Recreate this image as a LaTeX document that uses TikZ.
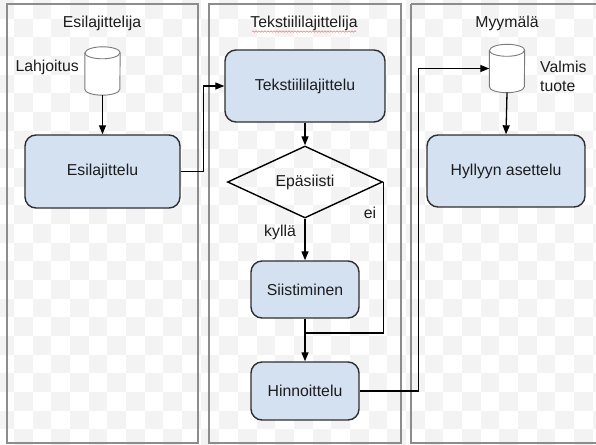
\documentclass[tikz,border=0pt]{standalone}
\usepackage{fontspec}
\setmainfont{Liberation Sans}
\usetikzlibrary{arrows.meta,shapes.geometric,decorations.pathmorphing}
\definecolor{boxfill}{HTML}{D4E1F1}
\definecolor{boxline}{HTML}{2E2E2E}
\definecolor{ink}{HTML}{1C1C1C}
\definecolor{lanegray}{HTML}{8C8C8C}
\definecolor{dbgray}{HTML}{7A7A7A}
\definecolor{checker}{HTML}{F3F3F3}
\begin{document}
\begin{tikzpicture}[x=1pt,y=-1pt,
  font=\fontsize{15.8}{19}\selectfont, text=ink,
  lane/.style={draw=lanegray, line width=1.2pt},
  task/.style={draw=boxline, fill=boxfill, line width=1.4pt, rounded corners=11pt,
    align=center, inner sep=0pt},
  decision/.style={diamond, draw=black, line width=1.4pt, inner sep=0pt, aspect=2.15},
  dbspot/.style={inner sep=0pt, minimum width=35pt, minimum height=48pt},
  dbline/.style={draw=dbgray, line width=0.9pt},
  flow/.style={draw=black, line width=1.3pt, -{Triangle[length=9pt,width=7pt]}},
  wire/.style={draw=black, line width=1.3pt},
  lbl/.style={inner sep=0pt}
]
\useasboundingbox (0,0) rectangle (596,444);

% light checkered canvas
\begin{scope}
  \clip (0,0) rectangle (596,444);
  \foreach \i in {-1,...,31}{
    \foreach \j in {0,...,23}{
      \pgfmathtruncatemacro\cpar{mod(\i+\j+100,2)}
      \ifnum\cpar=1
        \fill[checker] (14+\i*18.667,\j*18.667) rectangle ++(18.667,18.667);
      \fi
    }
  }
\end{scope}

% swimlanes
\draw[lane] (7,4) rectangle (198,443);
\draw[lane] (209,4) rectangle (401,443);
\draw[lane] (411,4) -- (600,4);
\draw[lane] (411,4) -- (411,443) -- (600,443);

\node[lbl] (t1) at (102,23) {Esilajittelija};
\node[lbl] (t2) at (304,23) {Tekstiililajittelija};
\node[lbl] (t3) at (507,23) {Myymälä};
\draw[red!55, line width=0.6pt, decorate,
  decoration={snake, amplitude=0.7pt, segment length=3pt}] (252,31.5) -- (356,31.5);

% data stores
\node[dbspot] (lah) at (102.5,71) {};
\node[dbspot] (val) at (507,68.5) {};
\foreach \d in {lah,val}{
  \draw[dbline, fill=white]
    ([yshift=-6pt]\d.north west) -- ([yshift=6pt]\d.south west)
    arc[start angle=180, end angle=360, x radius=17.5pt, y radius=6pt]
    -- ([yshift=-6pt]\d.north east)
    arc[start angle=0, end angle=180, x radius=17.5pt, y radius=6pt] -- cycle;
  \draw[dbline] ([yshift=-6pt]\d.north west)
    arc[start angle=180, end angle=360, x radius=17.5pt, y radius=6pt];
}
\node[lbl, anchor=east] (lahl) at (79,67) {Lahjoitus};
\node[lbl, anchor=west, align=left] (vall) at (540,76) {Valmis\\tuote};

% process steps
\node[task, minimum width=155pt, minimum height=73pt] (esi) at (102.5,171.5) {Esilajittelu};
\node[task, minimum width=160pt, minimum height=72pt] (tek) at (305,86) {Tekstiililajittelu};
\node[decision, minimum width=155pt, minimum height=72pt] (epa) at (305,182) {Epäsiisti};
\node[task, minimum width=108pt, minimum height=57pt] (sii) at (305,289.5) {Siistiminen};
\node[task, minimum width=108pt, minimum height=58pt] (hin) at (305,391) {Hinnoittelu};
\node[task, minimum width=158pt, minimum height=72pt] (hyl) at (506,171) {Hyllyyn asettelu};

% connectors
\coordinate (merge) at (305,333);
\draw[flow] (lah.south) -- (esi.north);
\draw[flow] (esi.east) -- ++(23,0) |- (tek.west);
\draw[flow] (tek.south) -- (epa.north);
\draw[flow] (epa.south) -- (sii.north);
\draw[wire] (epa.east) |- (merge);
\draw[flow] (sii.south) -- (hin.north);
\draw[flow] (hin.east) -- ++(59,0) |- (val.west);
\draw[flow] (val.south) -- (hyl.north);

\node[lbl] (kyl) at (280,232) {kyllä};
\node[lbl] (ei) at (370,213) {ei};
\end{tikzpicture}
\end{document}
